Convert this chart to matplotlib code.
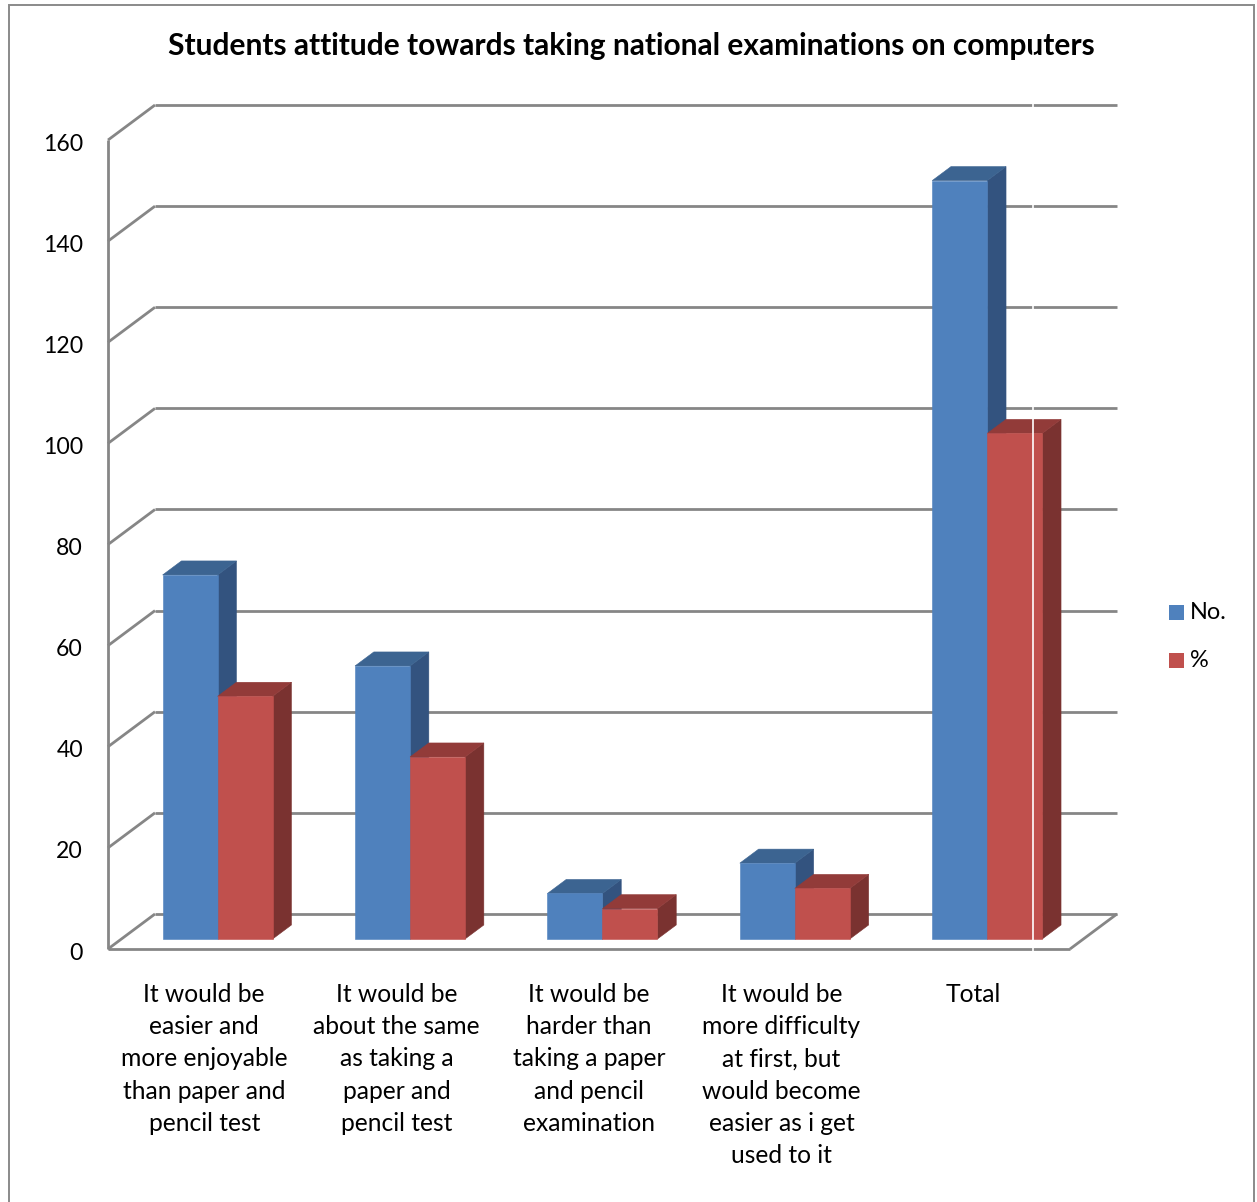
import matplotlib
matplotlib.use("Agg")
import matplotlib.pyplot as plt
from matplotlib.patches import Polygon, Rectangle
from matplotlib.lines import Line2D

# ---- data -------------------------------------------------------------
title = "Students attitude towards taking national examinations on computers"
categories = [
    "It would be\neasier and\nmore enjoyable\nthan paper and\npencil test",
    "It would be\nabout the same\nas taking a\npaper and\npencil test",
    "It would be\nharder than\ntaking a paper\nand pencil\nexamination",
    "It would be\nmore difficulty\nat first, but\nwould become\neasier as i get\nused to it",
    "Total",
]
counts = [72, 54, 9, 15, 150]
percents = [48, 36, 6, 10, 100]
series_names = ["No.", "%"]
y_ticks = [0, 20, 40, 60, 80, 100, 120, 140, 160]

# ---- styling ----------------------------------------------------------
FONT = "Lato"
face_colors = {
    "No.": ("#4F81BD", "#3C6491", "#33537F"),   # front, top, side
    "%":   ("#C0504D", "#923B39", "#7A3230"),
}
GRID = "#868686"

W, H = 1257, 1202
fig = plt.figure(figsize=(W / 100, H / 100), dpi=100)
fig.patch.set_facecolor("white")
renderer = fig.canvas.get_renderer()

# plot region (front floor corner to back-top corner of the walls)
left_px, right_px, top_px, bottom_px = 108, 1117, 105, 949
front_right_px, front_top_px = 1070, 141
ax = fig.add_axes([left_px / W, 1 - bottom_px / H,
                   (right_px - left_px) / W, (bottom_px - top_px) / H])
ax.axis("off")

ncat = len(categories)
ymax = y_ticks[-1]
cat_px = (front_right_px - left_px) / ncat
unit_px = (bottom_px - front_top_px) / ymax
DX = (right_px - front_right_px) / cat_px      # depth shift in category units
DY = (bottom_px - 914) / unit_px               # depth shift in value units
ax.set_xlim(0, ncat + DX)
ax.set_ylim(0, ymax + DY)


def P(x, y, d):
    """Oblique projection of a point at depth fraction d (0 front, 1 back)."""
    return (x + d * DX, y + d * DY)


def seg(p, q, **kw):
    ax.add_line(Line2D([p[0], q[0]], [p[1], q[1]], color=GRID, lw=2.0,
                       solid_capstyle="butt", clip_on=False, **kw))


# walls and floor
for v in y_ticks:
    seg(P(0, v, 1), P(ncat, v, 1), zorder=1)
    seg(P(0, v, 0), P(0, v, 1), zorder=1)
seg(P(0, 0, 0), P(ncat, 0, 0), zorder=1)
seg(P(ncat, 0, 0), P(ncat, 0, 1), zorder=1)
seg(P(0, 0, 0), P(0, ymax, 0), zorder=1)

# 3-D columns
d0, d1 = 10 / 35, 10 / 35 + 0.4
bw = 55 / cat_px


def column(x0, x1, v, cols):
    front, top, side = cols
    faces = [
        ([P(x1, 0, d0), P(x1, 0, d1), P(x1, v, d1), P(x1, v, d0)], side),
        ([P(x0, v, d0), P(x1, v, d0), P(x1, v, d1), P(x0, v, d1)], top),
        ([P(x0, 0, d0), P(x1, 0, d0), P(x1, v, d0), P(x0, v, d0)], front),
    ]
    for pts, c in faces:
        ax.add_patch(Polygon(pts, closed=True, facecolor=c, edgecolor=c,
                             lw=0.4, zorder=3, clip_on=False))


for i in range(ncat):
    cx = i + 0.5
    column(cx - bw, cx, counts[i], face_colors[series_names[0]])
    column(cx, cx + bw, percents[i], face_colors[series_names[1]])


def fit(txt, target_px):
    w = txt.get_window_extent(renderer).width
    txt.set_fontsize(txt.get_fontsize() * target_px / w)


# y tick labels
probe = ax.text(0, 0, "160", family=FONT, fontsize=16)
fit(probe, 40)
tick_fs = probe.get_fontsize()
probe.remove()
for v in y_ticks:
    ax.annotate(str(v), xy=P(0, v, 0), xytext=(-25, -10.5),
                textcoords="offset pixels", ha="right", va="baseline",
                family=FONT, fontsize=tick_fs, color="black",
                annotation_clip=False)

# category labels, one line at a time
probe = ax.text(0, 0, "more enjoyable", family=FONT, fontsize=16)
fit(probe, 167)
cat_fs = probe.get_fontsize()
probe.remove()
for i, lab in enumerate(categories):
    for k, line in enumerate(lab.split("\n")):
        ax.annotate(line, xy=P(i + 0.5, 0, 0),
                    xytext=(0, -(1001.5 - bottom_px) - k * 32.35),
                    textcoords="offset pixels", ha="center", va="baseline",
                    family=FONT, fontsize=cat_fs, color="black",
                    annotation_clip=False)

# title
t = fig.text(630.9 / W, 1 - 55.5 / H, title, ha="center", va="baseline",
             family=FONT, weight="bold", fontsize=18, color="black")
fit(t, 928)

# legend
probe = fig.text(0, 0, "No.", family=FONT, fontsize=16)
fit(probe, 36.7)
leg_fs = probe.get_fontsize()
probe.remove()
for name, sq_top, base in [(series_names[0], 605, 619), (series_names[1], 653, 667)]:
    fig.add_artist(Rectangle((1169 / W, 1 - (sq_top + 15) / H), 15 / W, 15 / H,
                             transform=fig.transFigure,
                             facecolor=face_colors[name][0], edgecolor="none"))
    fig.text(1190 / W, 1 - base / H, name, ha="left", va="baseline",
             family=FONT, fontsize=leg_fs, color="black")

# chart border
fig.add_artist(Rectangle((9 / W, -0.05), (1254 - 9) / W, 1.05 - 4.7 / H,
                         transform=fig.transFigure, facecolor="none",
                         edgecolor="#8A8A8A", lw=1.4))
# thin white seam through the plot
fig.add_artist(Line2D([1033 / W, 1033 / W], [1 - 15 / H, 1 - 951 / H],
                      transform=fig.transFigure, color="white", lw=1.2,
                      zorder=10))

fig.savefig("out.png", dpi=100, facecolor="white")
